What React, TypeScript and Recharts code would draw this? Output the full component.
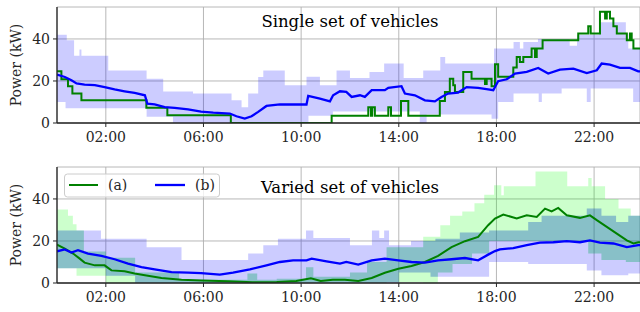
import { ComposedChart, Line, Area, XAxis, YAxis, CartesianGrid } from 'recharts';

// hours of day (x), kW (y)
const hourTicks = [2, 6, 10, 14, 18, 22];
const powerTicks = [0, 20, 40];

// --- Single set of vehicles ---
const singleGreenT = [0, 0.18, 0.45, 0.63, 1.0, 3.66, 4.52, 7.12, 11.25, 12.75, 12.86, 12.91, 13.02, 13.57, 13.68, 14.09, 14.39, 15.68, 15.89, 16.09, 16.23, 16.3, 16.64, 16.98, 17.53, 17.6, 17.8, 17.94, 18.07, 18.69, 18.83, 18.96, 19.1, 19.44, 19.58, 19.65, 19.89, 21.35, 21.76, 21.86, 22.24, 22.45, 22.52, 22.65, 22.79, 22.93, 23.34, 23.47, 23.54, 23.61, 24];
const singleGreenV = [24.6, 20.8, 17.5, 14, 10.8, 7.3, 3.7, 0, 3.5, 7.5, 3.5, 7.5, 3.5, 7.5, 3.5, 10.5, 3.5, 10.5, 14.8, 21, 18, 14.8, 24.3, 21, 18.5, 21, 17.5, 28, 22, 26.4, 31.4, 29, 31.4, 35.4, 31.4, 35.4, 39.4, 42.6, 46, 42.6, 52.9, 49.7, 52.9, 49.7, 46, 42.6, 39.4, 42.6, 39.4, 35.4, 35.4];

const singleBlueT = [0, 0.32, 0.59, 0.8, 1.13, 1.55, 1.95, 2.36, 2.77, 3.18, 3.6, 3.7, 4.0, 4.41, 4.82, 5.37, 5.9, 6.4, 7.08, 7.35, 7.69, 7.97, 8.24, 8.58, 9.13, 9.67, 10.22, 10.29, 10.77, 11.18, 11.31, 11.59, 11.85, 12.07, 12.41, 12.61, 12.89, 13.43, 13.57, 14.11, 14.25, 14.66, 15.07, 15.48, 15.75, 16.02, 16.43, 16.78, 17.25, 17.66, 17.87, 18.07, 18.42, 18.76, 19.24, 19.71, 20.12, 20.6, 21.15, 21.7, 22.11, 22.31, 22.65, 23.06, 23.47, 23.81, 24];
const singleBlueV = [23, 21.9, 20.3, 18.8, 18.3, 18, 17.1, 16, 15.1, 14.3, 13.2, 9.2, 8.9, 7.6, 7.2, 6.5, 5.4, 4.9, 4.5, 3.2, 2.1, 3.2, 5.3, 8.1, 8.9, 8.8, 8.8, 12.9, 11.6, 10.3, 13.2, 15.1, 14.8, 12.4, 13.2, 12.4, 15.6, 15.6, 16.7, 17.5, 14, 13.2, 10.8, 10.3, 12.4, 14, 14.5, 17.1, 16.7, 16, 15.6, 19.9, 20.8, 23.5, 24.3, 26.2, 23.5, 25.4, 25.9, 23.8, 25.1, 28.3, 27.8, 26.2, 26.2, 24.6, 24.4];

const singleBandT = [0, 0.35, 0.4, 0.7, 0.92, 1.0, 2.1, 3.67, 4.35, 4.75, 5.57, 7.15, 7.56, 7.83, 8.24, 8.45, 9.33, 10.22, 10.3, 10.77, 11.3, 11.45, 12.0, 12.8, 13.4, 14.2, 14.86, 15.0, 15.14, 15.7, 15.9, 17.8, 17.9, 18.07, 18.7, 18.96, 19.1, 19.7, 19.73, 19.86, 20.67, 21.0, 21.3, 21.7, 21.86, 22.2, 23.3, 23.4, 23.6, 24];
const singleBandLo = [10, 7, 7, 7, 7, 7, 7, 3, 3, 0, 0, 0, 0, 0, 0, 0, 0, 0, 3.5, 3.5, 5.5, 5.5, 5.5, 5.5, 5.5, 5.5, 0, 0, 4, 4, 4, 2, 2, 10, 14, 14, 14, 14, 10, 14, 16.4, 16.4, 16.4, 10, 16.4, 16.4, 16.4, 16.4, 10, 10];
const singleBandHi = [42, 42, 39.4, 32, 35, 32, 25, 21, 15, 15, 14, 10.8, 7.5, 14, 21.9, 25, 18, 22, 22, 18, 18, 25, 21.4, 24.3, 28.3, 21.4, 21.4, 25, 25, 31.4, 28.3, 28.3, 35.4, 35.4, 38.6, 35.4, 38.6, 40, 40, 40, 40, 36.8, 42, 42, 42, 48, 42.6, 35.4, 35.4, 35.4];

// --- Varied set of vehicles ---
const variedGreenT = [0, 0.32, 0.66, 0.93, 1.13, 1.55, 1.95, 2.23, 2.77, 3.18, 3.6, 4.28, 5.1, 5.92, 7, 8, 9, 9.8, 10.4, 10.8, 11.3, 11.79, 12.34, 12.89, 13.43, 13.98, 14.52, 15.07, 15.61, 16.16, 16.71, 17.25, 17.66, 17.94, 18.28, 18.83, 19.24, 19.65, 19.99, 20.26, 20.53, 20.88, 21.42, 21.83, 22.11, 22.52, 22.93, 23.34, 23.61, 23.81, 24];
const variedGreenV = [18.3, 16.4, 14, 11.6, 9.7, 8.4, 8.4, 6, 5.6, 4.5, 3.7, 2.4, 1.6, 1.2, 0.8, 0.4, 0.5, 1, 2.2, 1, 1.5, 1.5, 1, 2.4, 4.9, 6.8, 8.1, 10, 12.9, 17.1, 19.9, 21.9, 27.5, 30.7, 32.6, 30.7, 32.2, 31.4, 35.4, 34.1, 35.7, 32.2, 31, 32.2, 29.9, 26.7, 23.5, 20.3, 18.8, 19.4, 19.4];

const variedBlueT = [0, 0.32, 0.59, 0.86, 1.27, 1.82, 2.36, 2.91, 3.46, 4.0, 4.69, 5.37, 5.9, 6.67, 7.21, 7.9, 8.58, 9.13, 9.67, 10.22, 10.43, 11.04, 11.59, 11.85, 12.34, 12.89, 13.43, 13.98, 14.52, 15.07, 15.61, 16.16, 16.71, 17.25, 17.66, 17.94, 18.14, 18.69, 19.24, 19.78, 20.33, 20.88, 21.42, 21.83, 22.24, 22.79, 23.34, 23.81, 24];
const variedBlueV = [15.1, 16, 14.5, 15.6, 14, 12.9, 11.3, 9.2, 7.6, 6.5, 5.2, 4.9, 4.7, 4, 4.9, 6.5, 8.4, 10, 10.8, 10.8, 11.6, 10.3, 9.2, 10, 8.8, 10.8, 11.6, 10.8, 10, 9.7, 10.8, 11.3, 11.9, 10.8, 13.5, 15.2, 16, 16.6, 18, 19.2, 19.4, 19.9, 19.4, 20.3, 19.2, 18.8, 17.1, 18, 18];

const variedGreenBandT = [0, 0.45, 0.65, 0.8, 1.1, 2.0, 3.2, 5.0, 7.8, 8.2, 9.0, 10.2, 10.5, 12.0, 12.7, 13.5, 15.0, 15.6, 15.7, 16.1, 16.2, 16.6, 17.0, 17.1, 17.5, 17.7, 17.9, 18.2, 18.3, 19.6, 20.9, 21.76, 21.9, 22.3, 22.45, 23.0, 23.3, 23.5, 24];
const variedGreenBandLo = [7, 7, 7, 3.5, 3.5, 0, 0, 0, 0, 0, 0, 0, 0, 0, 0, 0.5, 0, 5, 5, 5, 9, 9, 14, 14, 14, 20, 20, 20, 20, 20, 20, 14, 14, 11, 11, 11, 10, 10, 10];
const variedGreenBandHi = [35, 32, 28, 25, 15, 12, 5, 1.5, 4.5, 1.5, 2, 7.5, 3, 5, 10, 17, 22, 22, 27.5, 32, 32, 34, 34, 38, 42, 42, 46.5, 41.8, 46, 53, 46, 50, 46, 46, 40, 35.4, 35.4, 32, 32];

const variedBlueBandT = [0, 1.8, 2.0, 3.2, 3.67, 5.1, 7.83, 8.45, 9.05, 10.2, 10.5, 12.0, 12.9, 13.2, 13.4, 13.6, 14.0, 14.5, 15.3, 15.5, 16.5, 17.7, 19.3, 19.85, 21.7, 22.3, 22.9, 23.4, 24];
const variedBlueBandLo = [7, 7, 3.5, 0, 0, 0, 0, 0, 0, 0, 0, 0, 0, 0, 0, 0, 5, 5, 3, 3, 3, 10, 9, 9, 6, 3.7, 3.7, 4.5, 4.5];
const variedBlueBandHi = [25, 21, 21, 21, 17, 11, 14, 18, 21, 25, 21.4, 18, 25, 21.4, 25, 18, 18, 20, 20, 21, 24, 25, 29, 32, 35.4, 32, 29, 32, 32];

const pts = (t: number[], v: number[]) => t.map((h, i) => ({ h, v: v[i] }));
const band = (t: number[], lo: number[], hi: number[]) => t.map((h, i) => ({ h, r: [lo[i], hi[i]] }));
const hh = (h: number) => `${String(h).padStart(2, '0')}:00`;

// step value at time h (stepAfter)
const stepAt = (t: number[], v: number[], h: number) => {
  let k = 0;
  while (k + 1 < t.length && t[k + 1] <= h) k++;
  return v[k];
};

// where the two varied bands overlap the colours mix darker, like the original
const overlapBand = () => {
  const times = Array.from(new Set([...variedGreenBandT, ...variedBlueBandT])).sort((a, b) => a - b);
  return times.map(h => {
    const lo = Math.max(stepAt(variedGreenBandT, variedGreenBandLo, h), stepAt(variedBlueBandT, variedBlueBandLo, h));
    const hi = Math.min(stepAt(variedGreenBandT, variedGreenBandHi, h), stepAt(variedBlueBandT, variedBlueBandHi, h));
    return { h, r: hi > lo ? [lo, hi] : [lo, lo] };
  });
};

const FONT = "'DejaVu Serif', serif";
const INK = '#262626';
const tickStyle = { fontSize: 14, fill: INK, fontFamily: FONT };

function Panel({ marginTop, axisHeight, title, titleY, children, legend }: any) {
  return (
    <div style={{ position: 'relative', width: 640, height: 156 }}>
      <ComposedChart width={640} height={156} margin={{ top: marginTop, right: 0, bottom: 0, left: 0 }}
        style={{ fontFamily: FONT }}>
        <CartesianGrid stroke="#b0b0b0" strokeWidth={0.9} />
        <XAxis
          type="number" dataKey="h" domain={[0, 23.88]} allowDataOverflow
          ticks={hourTicks} tickFormatter={hh} height={axisHeight}
          tick={tickStyle} tickSize={4} tickMargin={5}
          stroke={INK} axisLine={{ stroke: INK, strokeWidth: 1.3 }} tickLine={{ stroke: INK }}
        />
        <XAxis xAxisId="top" orientation="top" type="number" domain={[0, 23.88]} height={0}
          tick={false} tickLine={false} axisLine={{ stroke: INK, strokeWidth: 1.3 }} />
        <YAxis
          type="number" domain={[0, 55.2]} allowDataOverflow ticks={powerTicks} width={57}
          tick={tickStyle} tickSize={4} tickMargin={3}
          stroke={INK} axisLine={{ stroke: INK, strokeWidth: 1.3 }} tickLine={{ stroke: INK }}
          label={{ value: 'Power (kW)', angle: -90, position: 'insideLeft', offset: 16, textAnchor: 'middle', style: { textAnchor: 'middle', fontSize: 14, fill: INK, fontFamily: FONT } }}
        />
        {children}
      </ComposedChart>
      <svg width={640} height={156} style={{ position: 'absolute', left: 0, top: 0, pointerEvents: 'none' }}>
        <text x={350} y={titleY} textAnchor="middle" fontSize={16.5} fill="#000" fontFamily={FONT}>{title}</text>
        {legend}
      </svg>
    </div>
  );
}

export default function App() {
  return (
    <div style={{ width: 640, height: 312, background: '#fff' }}>
      <style>{'body{margin:0}'}</style>
      <Panel marginTop={7} axisHeight={33} title="Single set of vehicles" titleY={26.5}>
        <Area data={band(singleBandT, singleBandLo, singleBandHi)} dataKey="r" type="stepAfter"
          fill="#0000ff" fillOpacity={0.2} stroke="none" isAnimationActive={false} />
        <Line data={pts(singleGreenT, singleGreenV)} dataKey="v" type="stepAfter" stroke="#008000"
          strokeWidth={2} dot={false} activeDot={false} isAnimationActive={false} />
        <Line data={pts(singleBlueT, singleBlueV)} dataKey="v" type="linear" stroke="#0000ff"
          strokeWidth={2.3} dot={false} activeDot={false} isAnimationActive={false} />
      </Panel>
      <Panel
        marginTop={11} axisHeight={29} title="Varied set of vehicles" titleY={37}
        legend={
          <g fontFamily={FONT} fontSize={14} fill={INK}>
            <rect x={64.5} y={18} width={155} height={23} rx={3} fill="#fff" fillOpacity={0.8} stroke="#cccccc" />
            <line x1={69} x2={98} y1={29} y2={29} stroke="#008000" strokeWidth={2} />
            <text x={108} y={34}>(a)</text>
            <line x1={155} x2={185} y1={29} y2={29} stroke="#0000ff" strokeWidth={2.3} />
            <text x={195} y={34}>(b)</text>
          </g>
        }
      >
        <Area data={band(variedGreenBandT, variedGreenBandLo, variedGreenBandHi)} dataKey="r" type="stepAfter"
          fill="#00ff00" fillOpacity={0.2} stroke="none" isAnimationActive={false} />
        <Area data={band(variedBlueBandT, variedBlueBandLo, variedBlueBandHi)} dataKey="r" type="stepAfter"
          fill="#0000ff" fillOpacity={0.2} stroke="none" isAnimationActive={false} />
        <Area data={overlapBand()} dataKey="r" type="stepAfter"
          fill="#008080" fillOpacity={0.16} stroke="none" isAnimationActive={false} />
        <Line data={pts(variedGreenT, variedGreenV)} dataKey="v" type="linear" stroke="#008000"
          strokeWidth={2} dot={false} activeDot={false} isAnimationActive={false} />
        <Line data={pts(variedBlueT, variedBlueV)} dataKey="v" type="linear" stroke="#0000ff"
          strokeWidth={2.3} dot={false} activeDot={false} isAnimationActive={false} />
      </Panel>
    </div>
  );
}
